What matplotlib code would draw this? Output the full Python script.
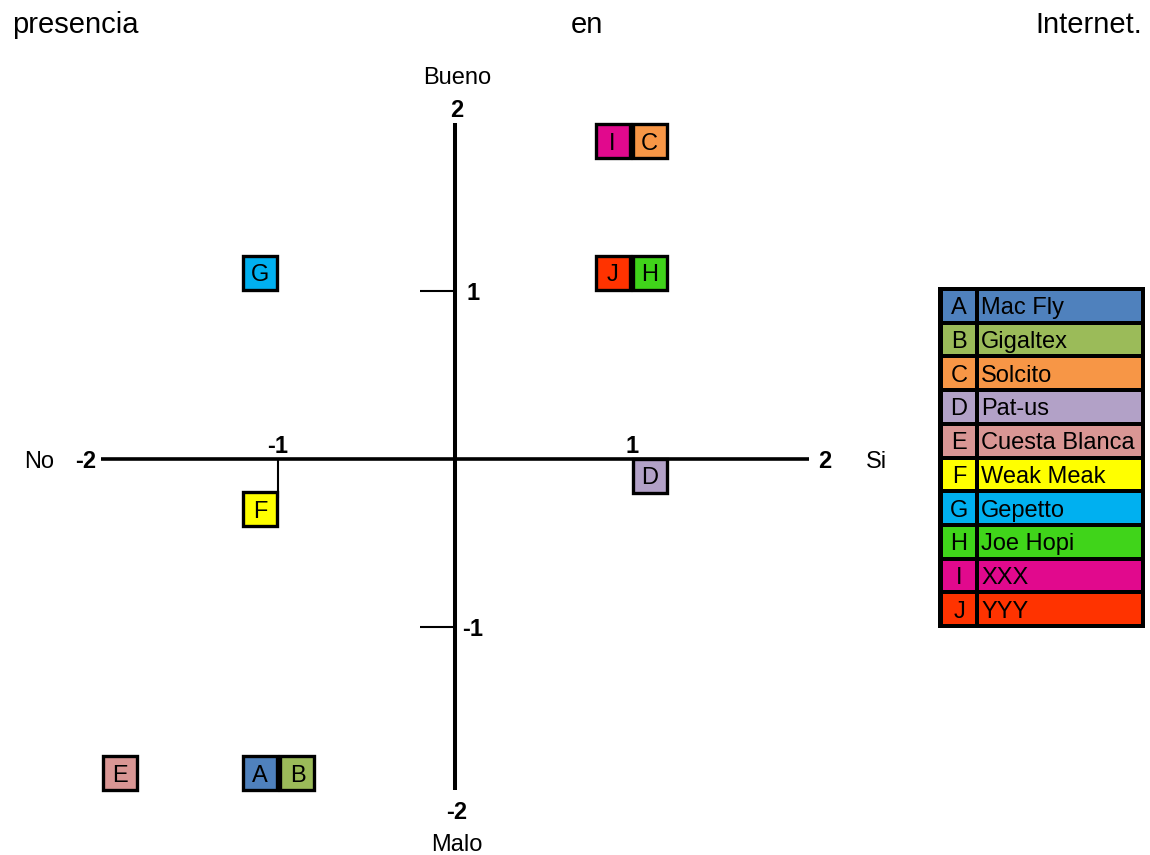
import matplotlib
matplotlib.use('Agg')
import matplotlib.pyplot as plt
from matplotlib.patches import Rectangle

plt.rcParams['font.family'] = ['Liberation Sans', 'DejaVu Sans']

# ---- data ----
letters = ['A', 'B', 'C', 'D', 'E', 'F', 'G', 'H', 'I', 'J']
names = ['Mac Fly', 'Gigaltex', 'Solcito', 'Pat-us', 'Cuesta Blanca',
         'Weak Meak', 'Gepetto', 'Joe Hopi', 'XXX', 'YYY']
colors = ['#4F81BD', '#9BBB59', '#F79646', '#B2A1C7', '#D99694',
          '#FFFF00', '#00B0F0', '#40D41A', '#E1098D', '#FF3300']
x_vals = [-1.10, -0.89, 1.10, 1.10, -1.895, -1.10, -1.10, 1.10, 0.89, 0.89]
y_vals = [-1.87, -1.87, 1.89, -0.10, -1.87, -0.30, 1.11, 1.11, 1.89, 1.11]

x_ticks = [-2, -1, 1, 2]
y_ticks = [-2, -1, 1, 2]
x_axis_names = ['No', 'Si']
y_axis_names = ['Malo', 'Bueno']
title_words = ['presencia', 'en', 'Internet.']

# ---- figure ----
W, H = 1150, 855
fig = plt.figure(figsize=(W / 100, H / 100), dpi=100)
fig.patch.set_facecolor('white')

ax = fig.add_axes([101 / W, 60 / H, 708 / W, 672 / H])
ax.set_xlim(-2, 2)
ax.set_ylim(-2, 2)
ax.axis('off')

FS = 17
# axes lines
ax.plot([-2, 2], [0, 0], color='black', lw=2.6, solid_capstyle='butt', clip_on=False, zorder=2)
ax.plot([0, 0], [-1.97, 2.0], color='black', lw=2.9, solid_capstyle='butt', clip_on=False, zorder=2)

# small tick marks
for t in [-1, 1]:
    ax.plot([-0.2, 0], [t, t], color='black', lw=1.5, solid_capstyle='butt', clip_on=False, zorder=1)
ax.plot([-1, -1], [0, -0.23], color='black', lw=1.5, solid_capstyle='butt', clip_on=False, zorder=1)

# tick labels on x axis
for t in x_ticks:
    if abs(t) == 2:
        xx = t + (0.09 if t > 0 else -0.085)
        ax.text(xx, 0, str(t), ha='center', va='center_baseline', fontsize=FS,
                fontweight='bold', clip_on=False)
    else:
        ax.text(t, 0.09, str(t), ha='center', va='center_baseline', fontsize=FS,
                fontweight='bold', clip_on=False)
# tick labels on y axis
for t in y_ticks:
    if abs(t) == 2:
        yy = t + (0.09 if t > 0 else -0.09)
        ax.text(0.01, yy, str(t), ha='center', va='center_baseline', fontsize=FS,
                fontweight='bold', clip_on=False)
    else:
        ax.text(0.10, t, str(t), ha='center', va='center_baseline', fontsize=FS,
                fontweight='bold', clip_on=False)

# axis names
ax.text(-2.35, 0, x_axis_names[0], ha='center', va='center_baseline', fontsize=FS, clip_on=False)
ax.text(2.38, 0, x_axis_names[1], ha='center', va='center_baseline', fontsize=FS, clip_on=False)
ax.text(0.01, -2.28, y_axis_names[0], ha='center', va='center_baseline', fontsize=FS, clip_on=False)
ax.text(0.01, 2.28, y_axis_names[1], ha='center', va='center_baseline', fontsize=FS, clip_on=False)

# boxes
bw, bh = 34 / 177, 34 / 168
for lab, c, x, y in zip(letters, colors, x_vals, y_vals):
    ax.add_patch(Rectangle((x - bw / 2, y - bh / 2), bw, bh, facecolor=c,
                           edgecolor='black', lw=2.4, zorder=3, clip_on=False))
    ax.text(x, y, lab, ha='center', va='center_baseline', fontsize=FS, zorder=4, clip_on=False)

# legend table
lax = fig.add_axes([938 / W, (H - 628) / H, 207 / W, 341 / H])
lax.set_xlim(0, 207)
lax.set_ylim(341, 0)
lax.axis('off')
lax.add_patch(Rectangle((0, 0), 207, 341, facecolor='black', edgecolor='none'))
n = len(letters)
rh = (341 - 4) / n
for i, (lab, name, c) in enumerate(zip(letters, names, colors)):
    y0 = 4 + i * rh
    lax.add_patch(Rectangle((5, y0), 32, rh - 4, facecolor=c, edgecolor='none'))
    cell = Rectangle((41, y0), 162, rh - 4, facecolor=c, edgecolor='none')
    lax.add_patch(cell)
    lax.text(21, y0 + (rh - 4) / 2, lab, ha='center', va='center_baseline', fontsize=FS)
    t = lax.text(43, y0 + (rh - 4) / 2, name, ha='left', va='center_baseline', fontsize=FS)
    t.set_clip_path(cell)

# title words spread over the line
fig.text(12 / W, (H - 33) / H, title_words[0], ha='left', va='baseline', fontsize=21)
fig.text(587 / W, (H - 33) / H, title_words[1], ha='center', va='baseline', fontsize=21)
fig.text(1142 / W, (H - 33) / H, title_words[2], ha='right', va='baseline', fontsize=21)

fig.savefig('out.png', dpi=100)
